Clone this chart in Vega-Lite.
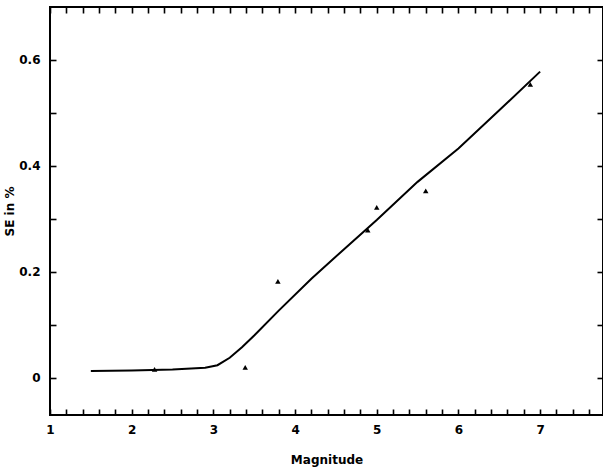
{
  "$schema": "https://vega.github.io/schema/vega-lite/v6.json",
  "width": 553,
  "height": 408,
  "autosize": "none",
  "padding": {"left": 50, "top": 7, "right": 0, "bottom": 53},
  "background": "white",
  "config": {
    "view": {"stroke": "black", "strokeWidth": 2},
    "axis": {
      "domain": false,
      "grid": false,
      "tickColor": "black",
      "tickWidth": 1.6,
      "labelFont": "DejaVu Sans",
      "labelFontWeight": "bold",
      "labelFontSize": 12,
      "labelColor": "black",
      "labelOverlap": false,
      "labelFlush": false,
      "titleFont": "DejaVu Sans",
      "titleFontWeight": "bold",
      "titleFontSize": 12,
      "titleColor": "black"
    }
  },
  "datasets": {
    "curve": [
      {"magnitude": 1.5, "se": 0.013},
      {"magnitude": 2.0, "se": 0.014},
      {"magnitude": 2.5, "se": 0.016},
      {"magnitude": 2.9, "se": 0.019},
      {"magnitude": 3.05, "se": 0.024},
      {"magnitude": 3.2, "se": 0.038},
      {"magnitude": 3.35, "se": 0.058},
      {"magnitude": 3.5, "se": 0.08},
      {"magnitude": 3.8, "se": 0.127},
      {"magnitude": 4.2, "se": 0.187},
      {"magnitude": 4.6, "se": 0.243},
      {"magnitude": 5.0, "se": 0.298},
      {"magnitude": 5.5, "se": 0.37},
      {"magnitude": 6.0, "se": 0.433},
      {"magnitude": 6.5, "se": 0.505},
      {"magnitude": 7.0, "se": 0.578}
    ],
    "obs": [
      {"magnitude": 2.28, "se": 0.016},
      {"magnitude": 3.39, "se": 0.02},
      {"magnitude": 3.79, "se": 0.182},
      {"magnitude": 4.89, "se": 0.279},
      {"magnitude": 5.0, "se": 0.322},
      {"magnitude": 5.6, "se": 0.353},
      {"magnitude": 6.88, "se": 0.554}
    ]
  },
  "layer": [
    {
      "data": {"name": "curve"},
      "mark": {"type": "line", "color": "black", "strokeWidth": 2},
      "encoding": {
        "x": {
          "field": "magnitude",
          "type": "quantitative",
          "scale": {"domain": [1, 7.77], "nice": false, "zero": false},
          "axis": {
            "orient": "bottom",
            "title": "Magnitude",
            "values": [1,1.2,1.4,1.6,1.8,2,2.2,2.4,2.6,2.8,3,3.2,3.4,3.6,3.8,4,4.2,4.4,4.6,4.8,5,5.2,5.4,5.6,5.8,6,6.2,6.4,6.6,6.8,7,7.2,7.4,7.6],
            "labelExpr": "abs(datum.value - round(datum.value)) < 0.001 ? format(datum.value, 'd') : ''",
            "tickSize": -6,
            "labelPadding": 15,
            "titlePadding": 19
          }
        },
        "y": {
          "field": "se",
          "type": "quantitative",
          "scale": {"domain": [-0.07, 0.7], "nice": false, "zero": false},
          "axis": {
            "orient": "left",
            "title": "SE in %",
            "values": [0, 0.1, 0.2, 0.3, 0.4, 0.5, 0.6],
            "labelExpr": "abs(datum.value*5 - round(datum.value*5)) < 0.001 ? (datum.value == 0 ? '0' : format(datum.value, '.1f')) : ''",
            "tickSize": -6,
            "labelPadding": 16,
            "titlePadding": 2
          }
        }
      }
    },
    {
      "data": {"name": "obs"},
      "mark": {"type": "point", "shape": "triangle-up", "filled": true, "color": "black", "size": 30, "opacity": 1},
      "encoding": {
        "x": {
          "field": "magnitude",
          "type": "quantitative",
          "scale": {"domain": [1, 7.77], "nice": false, "zero": false},
          "axis": {
            "orient": "top",
            "title": null,
            "labels": false,
            "values": [1,1.2,1.4,1.6,1.8,2,2.2,2.4,2.6,2.8,3,3.2,3.4,3.6,3.8,4,4.2,4.4,4.6,4.8,5,5.2,5.4,5.6,5.8,6,6.2,6.4,6.6,6.8,7,7.2,7.4,7.6],
            "tickSize": -6
          }
        },
        "y": {
          "field": "se",
          "type": "quantitative",
          "scale": {"domain": [-0.07, 0.7], "nice": false, "zero": false},
          "axis": {
            "orient": "right",
            "title": null,
            "labels": false,
            "values": [0, 0.1, 0.2, 0.3, 0.4, 0.5, 0.6],
            "tickSize": -6
          }
        }
      }
    }
  ],
  "resolve": {"axis": {"x": "independent", "y": "independent"}}
}
